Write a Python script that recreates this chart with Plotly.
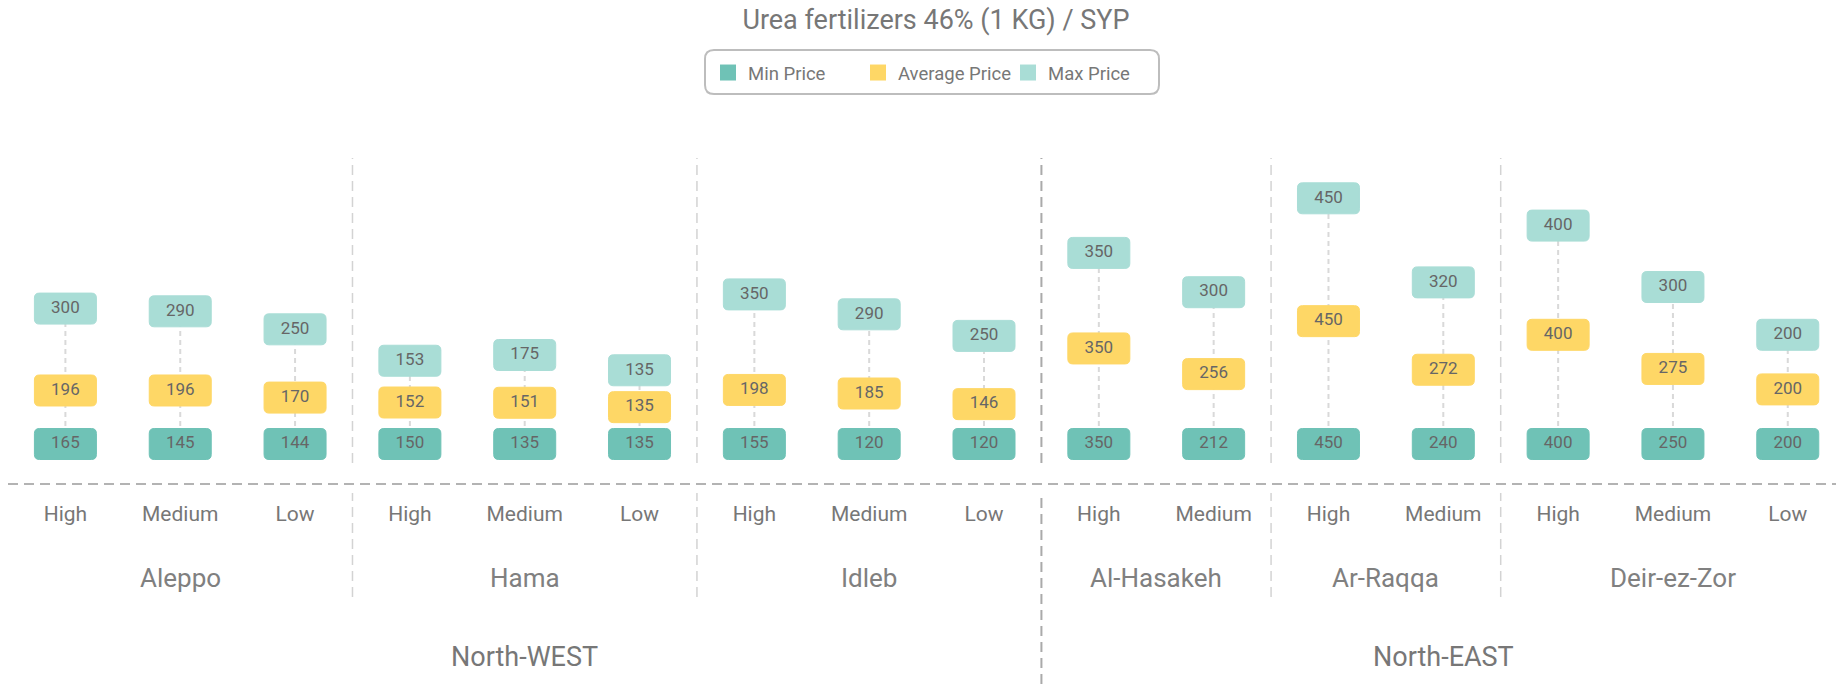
import plotly.graph_objects as go

# ---------------- data ----------------
regions = ["North-WEST", "North-EAST"]
governorates = ["Aleppo", "Hama", "Idleb", "Al-Hasakeh", "Ar-Raqqa", "Deir-ez-Zor"]
gov_region = ["North-WEST", "North-WEST", "North-WEST", "North-EAST", "North-EAST", "North-EAST"]
gov_levels = [
    ["High", "Medium", "Low"],
    ["High", "Medium", "Low"],
    ["High", "Medium", "Low"],
    ["High", "Medium"],
    ["High", "Medium"],
    ["High", "Medium", "Low"],
]
min_price = [165, 145, 144, 150, 135, 135, 155, 120, 120, 350, 212, 450, 240, 400, 250, 200]
avg_price = [196, 196, 170, 152, 151, 135, 198, 185, 146, 350, 256, 450, 272, 400, 275, 200]
max_price = [300, 290, 250, 153, 175, 135, 350, 290, 250, 350, 300, 450, 320, 400, 300, 200]
series_names = ["Min Price", "Average Price", "Max Price"]
title_text = "Urea fertilizers 46% (1 KG) / SYP"

# ---------------- styling ----------------
FONT = "Roboto"
C_MIN, C_AVG, C_MAX = "#6fc2b6", "#fed766", "#a9ddd6"
TXT = "#666666"
W, H = 1836, 684
M_L, M_R, M_T, M_B = 8, 0, 158, 200
PLOT_H = H - M_T - M_B
PX_PER_UNIT = 0.273
ZERO_PX = 444
y_lo = -((H - M_B) - ZERO_PX) / PX_PER_UNIT
y_hi = (ZERO_PX - M_T) / PX_PER_UNIT


def paper_y(py):
    return ((H - M_B) - py) / PLOT_H


# flatten categories
cat_gov, cat_level = [], []
for g, lv in zip(governorates, gov_levels):
    for l in lv:
        cat_gov.append(g)
        cat_level.append(l)
xs = list(range(len(cat_level)))

# stacked label levels: min at base, average, max stacked on average
base_level = [0 for _ in xs]
avg_level = list(avg_price)
max_level = [a + m for a, m in zip(avg_price, max_price)]


def rounded_rect_path(w, h, r):
    x0, x1, y0, y1 = -w / 2, w / 2, -h / 2, h / 2
    return (f"M{x0 + r},{y0} L{x1 - r},{y0} Q{x1},{y0} {x1},{y0 + r} "
            f"L{x1},{y1 - r} Q{x1},{y1} {x1 - r},{y1} L{x0 + r},{y1} "
            f"Q{x0},{y1} {x0},{y1 - r} L{x0},{y0 + r} Q{x0},{y0} {x0 + r},{y0} Z")


BOX = rounded_rect_path(62, 31, 5)

fig = go.Figure()
shapes = []

# connectors
for x, top in zip(xs, max_level):
    shapes.append(dict(type="line", xref="x", yref="y", x0=x, x1=x, y0=0, y1=top,
                       line=dict(color="#d9d9d9", width=2, dash="5px,4px"), layer="below"))

# boxes
for levels, col in [(base_level, C_MIN), (avg_level, C_AVG), (max_level, C_MAX)]:
    for x, yv in zip(xs, levels):
        shapes.append(dict(type="path", xref="x", yref="y", xsizemode="pixel", ysizemode="pixel",
                           xanchor=x, yanchor=yv, path=BOX, fillcolor=col,
                           line=dict(color=col, width=1), layer="below"))

# group dividers
bounds = []
count = 0
for g, lv in zip(governorates, gov_levels):
    count += len(lv)
    bounds.append(count - 0.5)
for i in range(len(governorates) - 1):
    b = bounds[i]
    is_region = gov_region[i] != gov_region[i + 1]
    col = "#aaaaaa" if is_region else "#d3d3d3"
    wdt = 2 if is_region else 1.5
    shapes.append(dict(type="line", xref="x", yref="paper", x0=b, x1=b,
                       y0=paper_y(463), y1=1, line=dict(color=col, width=wdt, dash="10px,6px"),
                       layer="below"))
    shapes.append(dict(type="line", xref="x", yref="paper", x0=b, x1=b,
                       y0=paper_y(684 if is_region else 597), y1=paper_y(493),
                       line=dict(color=col, width=wdt, dash="10px,6px"), layer="below"))

# horizontal axis line
shapes.append(dict(type="line", xref="paper", yref="paper", x0=0, x1=1, y0=0, y1=0,
                   line=dict(color="#b3b3b3", width=2, dash="10px,6px"), layer="below"))

# legend rounded border
lx0, lx1, ly0, ly1, lr = 705, 1159, 50, 94, 9
pw = W - M_L - M_R


def px_x(px):
    return (px - M_L) / pw


rx, ry = lr / pw, lr / PLOT_H
X0, X1, Y0, Y1 = px_x(lx0), px_x(lx1), paper_y(ly1), paper_y(ly0)
legend_path = (f"M{X0 + rx},{Y0} L{X1 - rx},{Y0} Q{X1},{Y0} {X1},{Y0 + ry} "
               f"L{X1},{Y1 - ry} Q{X1},{Y1} {X1 - rx},{Y1} L{X0 + rx},{Y1} "
               f"Q{X0},{Y1} {X0},{Y1 - ry} L{X0},{Y0 + ry} Q{X0},{Y0} {X0 + rx},{Y0} Z")
shapes.append(dict(type="path", xref="paper", yref="paper", path=legend_path,
                   line=dict(color="#bdbdbd", width=2), fillcolor="rgba(0,0,0,0)"))

# value texts
for levels, vals in [(base_level, min_price), (avg_level, avg_price), (max_level, max_price)]:
    fig.add_trace(go.Scatter(x=xs, y=levels, mode="text", text=[str(v) for v in vals],
                             textfont=dict(family=FONT, size=17, color=TXT),
                             showlegend=False, hoverinfo="skip"))

# legend entries
for name, col in zip(series_names, [C_MIN, C_AVG, C_MAX]):
    fig.add_trace(go.Scatter(x=[None], y=[None], mode="markers", name=name,
                             marker=dict(symbol="square", size=16, color=col)))

annotations = []
for g in governorates:
    idx = [i for i, cg in enumerate(cat_gov) if cg == g]
    annotations.append(dict(x=sum(idx) / len(idx), xref="x", y=paper_y(578), yref="paper",
                            text=g, showarrow=False, yanchor="middle",
                            font=dict(family=FONT, size=26, color="#808080")))
for r in regions:
    idx = [i for i, cg in enumerate(cat_gov) if gov_region[governorates.index(cg)] == r]
    annotations.append(dict(x=sum(idx) / len(idx), xref="x", y=paper_y(657), yref="paper",
                            text=r, showarrow=False, yanchor="middle",
                            font=dict(family=FONT, size=27, color="#777777")))

fig.update_layout(
    width=W, height=H,
    margin=dict(l=M_L, r=M_R, t=M_T, b=M_B),
    paper_bgcolor="white", plot_bgcolor="white",
    title=dict(text=title_text, x=936 / W, xanchor="center", y=1 - 20 / H, yanchor="middle",
               font=dict(family=FONT, size=27, color="#777777")),
    xaxis=dict(range=[-0.5, 15.42], tickmode="array", tickvals=xs, ticktext=cat_level,
               showgrid=False, zeroline=False, showline=False, ticks="outside", ticklen=11,
               tickcolor="rgba(0,0,0,0)", tickfont=dict(family=FONT, size=21, color="#777777")),
    yaxis=dict(range=[y_lo, y_hi], visible=False, showgrid=False, zeroline=False),
    legend=dict(orientation="h", x=708 / W, xanchor="left", xref="container",
                y=1 - 54 / H, yanchor="top", yref="container",
                entrywidth=105, entrywidthmode="pixels",
                font=dict(family=FONT, size=18.5, color="#777777"),
                bgcolor="rgba(0,0,0,0)", borderwidth=0),
    shapes=shapes,
    annotations=annotations,
    showlegend=True,
)

fig.write_html("out.html", config={"displayModeBar": False},
               post_script="document.body.style.margin='0';")
